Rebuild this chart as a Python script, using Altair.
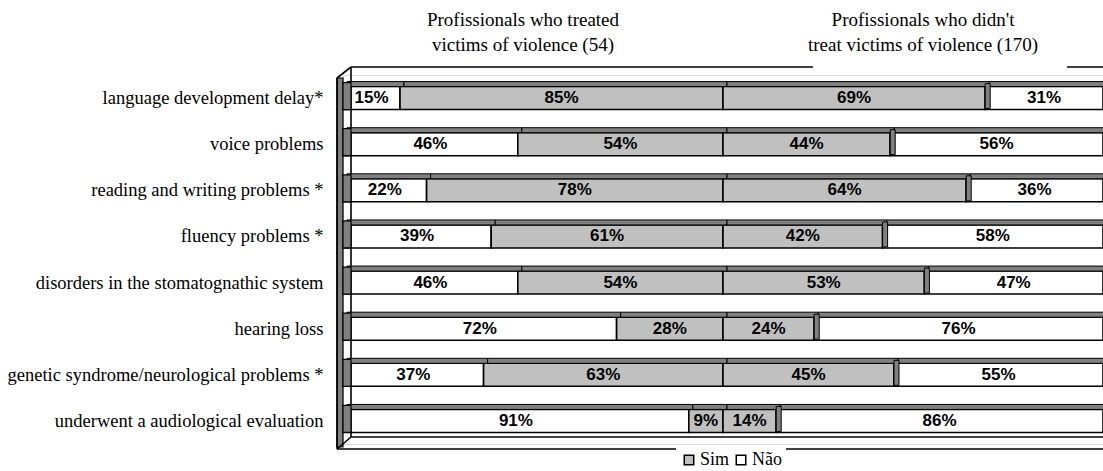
import altair as alt
import pandas as pd

categories = [
    "language development delay*",
    "voice problems",
    "reading and writing problems *",
    "fluency problems *",
    "disorders in the stomatognathic system",
    "hearing loss",
    "genetic syndrome/neurological problems *",
    "underwent a audiological evaluation",
]
treated_sim = [85, 54, 78, 61, 54, 28, 63, 9]
treated_nao = [15, 46, 22, 39, 46, 72, 37, 91]
untreated_sim = [69, 44, 64, 42, 53, 24, 45, 14]
untreated_nao = [31, 56, 36, 58, 47, 76, 55, 86]

title_left = ["Profissionals who treated", "victims of violence (54)"]
title_right = ["Profissionals who didn't", "treat victims of violence (170)"]

rows = []
for i, c in enumerate(categories):
    ts, tn, us, un = treated_sim[i], treated_nao[i], untreated_sim[i], untreated_nao[i]
    rows.append(dict(cat=c, side="L", resp="Não", start=-(ts + tn), end=-ts, label=f"{tn}%"))
    rows.append(dict(cat=c, side="L", resp="Sim", start=-ts, end=0, label=f"{ts}%"))
    rows.append(dict(cat=c, side="R", resp="Sim", start=0, end=us, label=f"{us}%"))
    rows.append(dict(cat=c, side="R", resp="Não", start=us, end=us + un, label=f"{un}%"))
df = pd.DataFrame(rows)
df["mid"] = (df["start"] + df["end"]) / 2

W, H = 760, 369
xs = alt.Scale(domain=[-100, 100], range=[0, W], nice=False, zero=False)
ys = alt.Scale(domain=categories, paddingInner=0, paddingOuter=0)
X = lambda f: alt.X(f"{f}:Q", scale=xs, axis=None)
yaxis = alt.Axis(
    title=None, domain=False, ticks=False, labelPadding=20,
    labelFont="Liberation Serif", labelFontSize=18.5, labelColor="black",
    labelLimit=400,
)
Y = alt.Y("cat:N", scale=ys, sort=categories, axis=yaxis)

base = alt.Chart(df)

BAR_H = 23
DARK = "#808080"
GRAY = "#c0c0c0"

one = pd.DataFrame({"k": [0]})
frame_base = alt.Chart(one)

wall = frame_base.mark_rect(fill=DARK, stroke="black", strokeWidth=1.2).encode(
    x=alt.value(-6), x2=alt.value(0), y=alt.value(3), y2=alt.value(372)
)
lines_spec = [
    (8, -8, 470, -8),
    (724, -8, W, -8),
    (-6, 3, 8, -8),
    (8, -8, 8, 362),
    (-6, 3, -6, 374),
    (8, 362, W, 362),
    (-6, 374, W, 374),
    (-6, 374, 8, 362),
]
frame_lines = [
    frame_base.mark_rule(color="black", strokeWidth=1.6).encode(
        x=alt.value(a), y=alt.value(b), x2=alt.value(c), y2=alt.value(d)
    )
    for a, b, c, d in lines_spec
]

faces = base.mark_bar(height=BAR_H, stroke="black", strokeWidth=1.6).encode(
    x=X("start"),
    x2="end:Q",
    y=Y,
    color=alt.Color(
        "resp:N",
        scale=alt.Scale(domain=["Sim", "Não"], range=[GRAY, "#ffffff"]),
        legend=alt.Legend(
            title=None, orient="none", legendX=333, legendY=372, direction="horizontal",
            symbolType="square", symbolSize=90, symbolStrokeColor="black",
            symbolStrokeWidth=1.5, labelFont="Liberation Serif", labelFontSize=18,
            labelColor="black", columnPadding=2, labelOffset=2, fillColor="white",
            padding=4,
        ),
    ),
)

top_strip = base.mark_bar(
    height=5, yOffset=-14, xOffset=4, x2Offset=4, fill=DARK, stroke="black", strokeWidth=1
).encode(x=X("start"), x2="end:Q", y=Y)

side_face = base.transform_filter(
    (alt.datum.side == "R") & (alt.datum.resp == "Sim")
).mark_bar(height=BAR_H + 2, yOffset=-2, x2Offset=5, fill=DARK, stroke="black", strokeWidth=1).encode(
    x=X("end"), x2="end:Q", y=Y
)

left_cap = base.transform_filter(
    (alt.datum.side == "L") & (alt.datum.resp == "Não")
).mark_bar(height=BAR_H + 4, yOffset=-2, x2Offset=8, fill=DARK, stroke="black", strokeWidth=1.2).encode(
    x=X("start"), x2="start:Q", y=Y
)

labels = base.mark_text(
    font="Liberation Sans", fontWeight="bold", fontSize=17, color="black", baseline="middle"
).encode(x=X("mid"), y=Y, text="label:N")

tdf = pd.DataFrame({
    "t": title_left + title_right,
    "px": [180, 180, 580, 580],
    "py": [-55, -30, -55, -30],
})
titles = alt.Chart(tdf).mark_text(
    font="Liberation Serif", fontSize=19, color="black", baseline="middle", align="center"
).encode(x=alt.X("px:Q", scale=None), y=alt.Y("py:Q", scale=None), text="t:N")

chart = alt.layer(
    faces, wall, *frame_lines, top_strip, side_face, left_cap, labels, titles
).properties(
    width=W, height=H,
    autosize=alt.AutoSizeParams(type="none"),
    padding={"left": 343, "top": 75, "right": 0, "bottom": 27},
).configure_view(stroke=None).configure(background="white")

chart.save("out.html", embed_options={"renderer": "svg", "actions": False})
